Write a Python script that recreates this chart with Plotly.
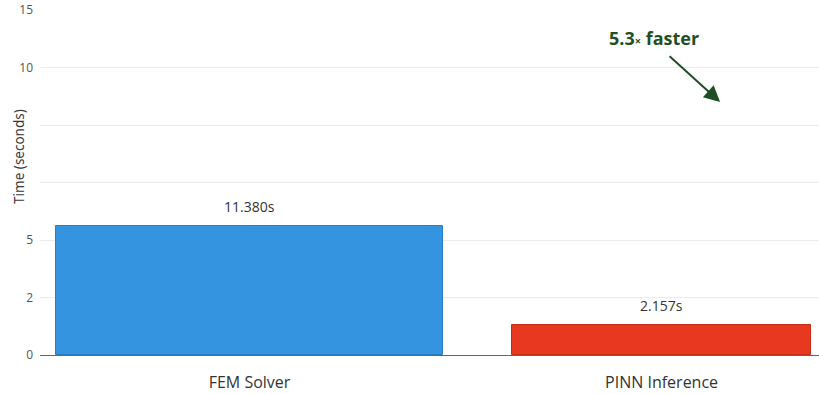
import plotly.graph_objects as go

categories = ["FEM Solver", "PINN Inference"]
time_labels = ["11.380s", "2.157s"]
# bar heights as drawn, in grid-line units of the (irregularly labelled) y axis
bar_heights = [2.243, 0.52]
bar_widths = [0.94, 0.726]
tick_labels = ["0", "2", "5", "", "", "10", "15"]
speedup_text = "5.3<span style='font-size:11px'>×</span> faster"

colors = ["#3494E0", "#E8381F"]
edge_colors = ["#2A7DC2", "#C22E18"]

fig = go.Figure()
fig.add_trace(go.Bar(
    x=[0, 1], y=bar_heights, width=bar_widths,
    marker=dict(color=colors, line=dict(color=edge_colors, width=1)),
    hoverinfo="skip", showlegend=False,
))

for i, (h, t) in enumerate(zip(bar_heights, time_labels)):
    fig.add_annotation(x=i, y=h, text=t, showarrow=False, yanchor="bottom",
                       yshift=8, font=dict(size=14, color="#333333", family="Open Sans"))

# arrow
fig.add_annotation(x=1.142, y=4.40, ax=-52, ay=-47, text="", showarrow=True,
                   arrowhead=2, arrowsize=1.6, arrowwidth=2, arrowcolor="#1F4F25")
fig.add_annotation(x=0.981, y=5.52, text="<b>" + speedup_text + "</b>", showarrow=False,
                   xanchor="center", yanchor="middle",
                   font=dict(size=18, color="#1F4F25", family="Open Sans"))

# y-axis title
fig.add_annotation(xref="paper", yref="paper", x=-0.027, y=0.577, text="Time (seconds)",
                   textangle=-90, showarrow=False, xanchor="center", yanchor="middle",
                   font=dict(size=13.5, color="#3A3A3A", family="Noto Sans"))

fig.update_layout(
    width=819, height=394,
    margin=dict(l=40, r=0, t=10, b=39),
    paper_bgcolor="white", plot_bgcolor="white",
    font=dict(family="Open Sans", color="#444444"),
    xaxis=dict(
        range=[-0.5085, 1.382], tickvals=[0, 1], ticktext=categories,
        showgrid=False, zeroline=False, showline=False, ticks="",
        ticklabelstandoff=16,
        tickfont=dict(size=16, color="#333333"),
    ),
    yaxis=dict(
        range=[0, 6], tickvals=list(range(len(tick_labels))), ticktext=tick_labels,
        showgrid=True, gridcolor="#EBEBEB", gridwidth=1,
        zeroline=True, zerolinecolor="#666666", zerolinewidth=1,
        showline=False, ticks="", ticklabelstandoff=6,
        tickfont=dict(size=12, color="#555555"),
    ),
    bargap=0,
)

fig.write_html("out.html")
